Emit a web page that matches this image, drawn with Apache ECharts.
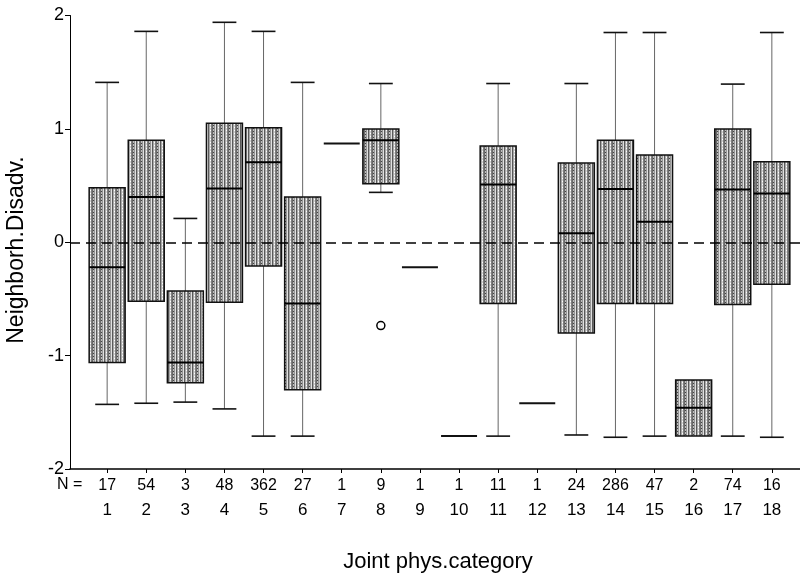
<!DOCTYPE html>
<html>
<head>
<meta charset="utf-8">
<script src="https://cdn.jsdelivr.net/npm/echarts@6/dist/echarts.min.js"></script>
<style>
  html, body { margin: 0; padding: 0; background: #fff; }
  #chart { width: 800px; height: 576px; }
</style>
</head>
<body>
<div id="chart"></div>
<script>
// Category codes along the x axis
const categories = [1, 2, 3, 4, 5, 6, 7, 8, 9, 10, 11, 12, 13, 14, 15, 16, 17, 18];
// Group sizes printed under each category
const nCounts = [17, 54, 3, 48, 362, 27, 1, 9, 1, 1, 11, 1, 24, 286, 47, 2, 74, 16];
// Box-plot statistics per category
const whiskerLow  = [-1.43, -1.42, -1.41, -1.47, -1.71, -1.71, 0.87, 0.44, -0.22, -1.71, -1.71, -1.42, -1.70, -1.72, -1.71, -1.71, -1.71, -1.72];
const quartile1   = [-1.06, -0.52, -1.24, -0.53, -0.21, -1.30, 0.87, 0.515, -0.22, -1.71, -0.54, -1.42, -0.80, -0.54, -0.54, -1.71, -0.55, -0.37];
const medians     = [-0.22, 0.40, -1.06, 0.475, 0.705, -0.54, 0.87, 0.90, -0.22, -1.71, 0.51, -1.42, 0.08, 0.47, 0.18, -1.46, 0.465, 0.43];
const quartile3   = [0.48, 0.90, -0.43, 1.05, 1.01, 0.40, 0.87, 1.00, -0.22, -1.71, 0.85, -1.42, 0.70, 0.90, 0.77, -1.215, 1.00, 0.71];
const whiskerHigh = [1.41, 1.86, 0.21, 1.94, 1.86, 1.41, 0.87, 1.40, -0.22, -1.71, 1.40, -1.42, 1.40, 1.85, 1.85, -1.215, 1.395, 1.85];
// Outlying cases: [category, value]
const outliers = [[8, -0.735]];
// Value-axis ticks
const yTicks = [-2, -1, 0, 1, 2];

// Vertical hatch texture used to fill the boxes
function makeHatch() {
  const c = document.createElement('canvas');
  const cols = ['#5a5a5a', '#a9a9a9', '#d2d2d2', '#7e7e7e', '#6a6a6a', '#bcbcbc', '#969696', '#e0e0e0'];
  c.width = cols.length; c.height = 3;
  const ctx = c.getContext('2d');
  cols.forEach((col, i) => { ctx.fillStyle = col; ctx.fillRect(i, 0, 1, 3); });
  ctx.fillStyle = '#ffffff';
  ctx.fillRect(2, 1, 1, 1);
  ctx.fillStyle = '#444444';
  ctx.fillRect(5, 2, 1, 1);
  return c;
}
const hatch = { image: makeHatch(), repeat: 'repeat' };

const boxData = categories.map((c, i) => [c, whiskerLow[i], quartile1[i], medians[i], quartile3[i], whiskerHigh[i]]);

const BOX_W = 0.92;   // box width in category units
const CAP_W = 0.61;   // whisker cap width in category units

function renderBox(params, api) {
  const x = api.value(0);
  const lo = api.value(1), q1 = api.value(2), md = api.value(3), q3 = api.value(4), hi = api.value(5);
  const w = api.size([BOX_W, 0])[0];
  const cw = api.size([CAP_W, 0])[0];
  const pLo = api.coord([x, lo]);
  const pQ1 = api.coord([x, q1]);
  const pMd = api.coord([x, md]);
  const pQ3 = api.coord([x, q3]);
  const pHi = api.coord([x, hi]);
  const cx = pMd[0];
  const children = [];
  const stem = { stroke: '#666', lineWidth: 1 };
  const cap = { stroke: '#111', lineWidth: 1.6 };
  if (q1 === q3) {
    children.push({ type: 'line', shape: { x1: cx - w / 2, y1: pMd[1], x2: cx + w / 2, y2: pMd[1] },
      style: { stroke: '#111', lineWidth: 2 } });
    return { type: 'group', children };
  }
  if (hi > q3) {
    children.push({ type: 'line', shape: { x1: cx, y1: pQ3[1], x2: cx, y2: pHi[1] }, style: stem });
    children.push({ type: 'line', shape: { x1: cx - cw / 2, y1: pHi[1], x2: cx + cw / 2, y2: pHi[1] }, style: cap });
  }
  if (lo < q1) {
    children.push({ type: 'line', shape: { x1: cx, y1: pQ1[1], x2: cx, y2: pLo[1] }, style: stem });
    children.push({ type: 'line', shape: { x1: cx - cw / 2, y1: pLo[1], x2: cx + cw / 2, y2: pLo[1] }, style: cap });
  }
  children.push({ type: 'rect', shape: { x: cx - w / 2, y: pQ3[1], width: w, height: pQ1[1] - pQ3[1] },
    style: { fill: hatch, stroke: '#111', lineWidth: 1.5 } });
  children.push({ type: 'line', shape: { x1: cx - w / 2, y1: pMd[1], x2: cx + w / 2, y2: pMd[1] },
    style: { stroke: '#000', lineWidth: 2 } });
  return { type: 'group', children };
}

const chart = echarts.init(document.getElementById('chart'), null, { renderer: 'canvas' });
const FONT = 'Liberation Sans, Arial, sans-serif';

chart.setOption({
  backgroundColor: '#fff',
  animation: false,
  grid: { left: 70, right: 0, top: 15.5, bottom: 107 },
  xAxis: {
    type: 'value',
    min: 0.05,
    max: 18.72,
    axisLine: { show: true, onZero: false, lineStyle: { color: '#000', width: 1.5 } },
    axisTick: { show: true, customValues: categories, length: 4, lineStyle: { color: '#000' } },
    splitLine: { show: false },
    axisLabel: {
      customValues: categories,
      margin: 5,
      color: '#000',
      fontFamily: FONT,
      formatter: v => '{n|' + nCounts[v - 1] + '}\n{c|' + v + '}',
      rich: {
        n: { fontFamily: FONT, fontSize: 16, lineHeight: 24, color: '#000' },
        c: { fontFamily: FONT, fontSize: 17, lineHeight: 24, color: '#000' }
      }
    }
  },
  yAxis: {
    type: 'value',
    min: -2,
    max: 2,
    interval: 1,
    axisLine: { show: true, lineStyle: { color: '#000', width: 1 } },
    axisTick: { show: true, length: 5, lineStyle: { color: '#000' } },
    splitLine: { show: false },
    axisLabel: {
      customValues: yTicks,
      margin: 6,
      color: '#000',
      fontFamily: FONT,
      fontSize: 18
    }
  },
  graphic: [
    {
      type: 'text',
      left: 57,
      top: 477,
      style: { text: 'N =', font: '16px ' + FONT, fill: '#000' }
    },
    {
      type: 'text',
      x: 17,
      y: 250,
      rotation: Math.PI / 2,
      style: { text: 'Neighborh.Disadv.', font: '23px ' + FONT, fill: '#000', align: 'center', verticalAlign: 'middle' }
    },
    {
      type: 'text',
      x: 438,
      y: 562,
      style: { text: 'Joint phys.category', font: '22px ' + FONT, fill: '#000', align: 'center', verticalAlign: 'middle' }
    }
  ],
  series: [
    {
      type: 'line',
      data: [],
      silent: true,
      z: 1,
      markLine: {
        silent: true,
        symbol: 'none',
        label: { show: false },
        lineStyle: { color: '#000', width: 1.5, type: [10, 6] },
        data: [{ yAxis: 0 }]
      }
    },
    {
      type: 'custom',
      z: 3,
      renderItem: renderBox,
      encode: { x: 0, y: [1, 2, 3, 4, 5] },
      data: boxData
    },
    {
      type: 'scatter',
      z: 4,
      symbol: 'circle',
      symbolSize: 8,
      itemStyle: { color: '#fff', borderColor: '#000', borderWidth: 1.5, opacity: 1 },
      data: outliers
    }
  ]
});
</script>
</body>
</html>
